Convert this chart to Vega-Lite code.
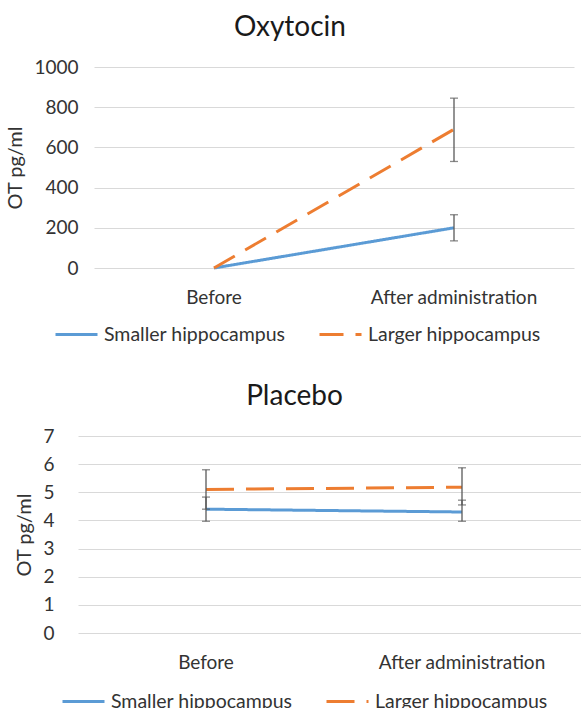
{
  "$schema": "https://vega.github.io/schema/vega-lite/v6.json",
  "padding": {"left": 5, "top": 14, "right": 0, "bottom": 0},
  "background": "white",
  "spacing": 39,
  "center": true,
  "datasets": {
    "oxy": [
      {"time": "Before", "group": "Smaller hippocampus", "value": 0},
      {"time": "After administration", "group": "Smaller hippocampus", "value": 200, "lower": 135, "upper": 265},
      {"time": "Before", "group": "Larger hippocampus", "value": 0},
      {"time": "After administration", "group": "Larger hippocampus", "value": 690, "lower": 530, "upper": 845}
    ],
    "plac": [
      {"time": "Before", "group": "Smaller hippocampus", "value": 4.4, "lower": 3.97, "upper": 4.83},
      {"time": "After administration", "group": "Smaller hippocampus", "value": 4.3, "lower": 3.97, "upper": 4.72},
      {"time": "Before", "group": "Larger hippocampus", "value": 5.1, "lower": 4.4, "upper": 5.8},
      {"time": "After administration", "group": "Larger hippocampus", "value": 5.18, "lower": 4.55, "upper": 5.87}
    ]
  },
  "vconcat": [
    {
      "title": {"text": "Oxytocin", "frame": "bounds"},
      "width": 480,
      "height": 201,
      "data": {"name": "oxy"},
      "encoding": {
        "x": {"field": "time", "type": "nominal", "sort": ["Before", "After administration"], "title": null}
      },
      "layer": [
        {
          "mark": {"type": "line", "strokeWidth": 3},
          "encoding": {
            "y": {"field": "value", "type": "quantitative", "title": "OT pg/ml", "scale": {"domain": [0, 1000]}, "axis": {"values": [0, 200, 400, 600, 800, 1000], "format": "d", "labelPadding": 16}},
            "color": {"field": "group", "type": "nominal", "sort": ["Smaller hippocampus", "Larger hippocampus"], "scale": {"domain": ["Smaller hippocampus", "Larger hippocampus"], "range": ["#5B9BD5", "#ED7D31"]}, "title": null, "legend": {"orient": "none", "legendX": -40, "legendY": 245}},
            "strokeDash": {"field": "group", "type": "nominal", "sort": ["Smaller hippocampus", "Larger hippocampus"], "scale": {"domain": ["Smaller hippocampus", "Larger hippocampus"], "range": [[1, 0], [24, 12]]}, "title": null, "legend": {"orient": "none", "legendX": -40, "legendY": 245}}
          }
        },
        {
          "transform": [{"filter": "isValid(datum.lower)"}],
          "mark": {"type": "rule", "color": "#595959", "strokeWidth": 1.3},
          "encoding": {"y": {"field": "lower", "type": "quantitative", "title": "OT pg/ml", "axis": {"values": [0, 200, 400, 600, 800, 1000], "format": "d", "labelPadding": 16}}, "y2": {"field": "upper"}}
        },
        {
          "transform": [{"filter": "isValid(datum.lower)"}],
          "mark": {"type": "tick", "color": "#595959", "thickness": 1.3, "size": 8},
          "encoding": {"y": {"field": "lower", "type": "quantitative", "title": "OT pg/ml", "axis": {"values": [0, 200, 400, 600, 800, 1000], "format": "d", "labelPadding": 16}}}
        },
        {
          "transform": [{"filter": "isValid(datum.lower)"}],
          "mark": {"type": "tick", "color": "#595959", "thickness": 1.3, "size": 8},
          "encoding": {"y": {"field": "upper", "type": "quantitative", "title": "OT pg/ml", "axis": {"values": [0, 200, 400, 600, 800, 1000], "format": "d", "labelPadding": 16}}}
        }
      ]
    },
    {
      "title": {"text": "Placebo", "frame": "bounds", "dx": -8},
      "width": 512,
      "height": 197,
      "data": {"name": "plac"},
      "encoding": {
        "x": {"field": "time", "type": "nominal", "sort": ["Before", "After administration"], "title": null}
      },
      "layer": [
        {
          "mark": {"type": "line", "strokeWidth": 3},
          "encoding": {
            "y": {"field": "value", "type": "quantitative", "title": "OT pg/ml", "scale": {"domain": [0, 7]}, "axis": {"values": [0, 1, 2, 3, 4, 5, 6, 7], "labelPadding": 24}},
            "color": {"field": "group", "type": "nominal", "sort": ["Smaller hippocampus", "Larger hippocampus"], "scale": {"domain": ["Smaller hippocampus", "Larger hippocampus"], "range": ["#5B9BD5", "#ED7D31"]}, "title": null, "legend": {"orient": "none", "legendX": -17, "legendY": 243}},
            "strokeDash": {"field": "group", "type": "nominal", "sort": ["Smaller hippocampus", "Larger hippocampus"], "scale": {"domain": ["Smaller hippocampus", "Larger hippocampus"], "range": [[1, 0], [28, 12]]}, "title": null, "legend": {"orient": "none", "legendX": -17, "legendY": 243}}
          }
        },
        {
          "mark": {"type": "rule", "color": "#595959", "strokeWidth": 1.3},
          "encoding": {"y": {"field": "lower", "type": "quantitative", "title": "OT pg/ml", "axis": {"values": [0, 1, 2, 3, 4, 5, 6, 7], "labelPadding": 24}}, "y2": {"field": "upper"}}
        },
        {
          "mark": {"type": "tick", "color": "#595959", "thickness": 1.3, "size": 8},
          "encoding": {"y": {"field": "lower", "type": "quantitative", "title": "OT pg/ml", "axis": {"values": [0, 1, 2, 3, 4, 5, 6, 7], "labelPadding": 24}}}
        },
        {
          "mark": {"type": "tick", "color": "#595959", "thickness": 1.3, "size": 8},
          "encoding": {"y": {"field": "upper", "type": "quantitative", "title": "OT pg/ml", "axis": {"values": [0, 1, 2, 3, 4, 5, 6, 7], "labelPadding": 24}}}
        }
      ]
    }
  ],
  "resolve": {"scale": {"color": "independent", "strokeDash": "independent"}, "legend": {"color": "independent", "strokeDash": "independent"}},
  "config": {
    "font": "Lato",
    "view": {"stroke": null},
    "title": {"fontSize": 28, "fontWeight": "normal", "color": "#1a1a1a", "anchor": "middle", "offset": 16},
    "axis": {"labelFontSize": 19, "titleFontSize": 20, "titleFontWeight": "normal", "labelColor": "#333333", "titleColor": "#333333", "domain": false, "ticks": false, "gridColor": "#d9d9d9", "gridWidth": 1.2, "labelOverlap": false},
    "axisX": {"labelAngle": 0, "labelPadding": 20, "grid": false},
    "axisY": {"titlePadding": 8},
    "legend": {"direction": "horizontal", "labelFontSize": 19.5, "labelColor": "#333333", "symbolType": "stroke", "symbolSize": 1764, "symbolStrokeWidth": 3, "columnPadding": 27, "labelLimit": 300, "labelOffset": 5}
  }
}
